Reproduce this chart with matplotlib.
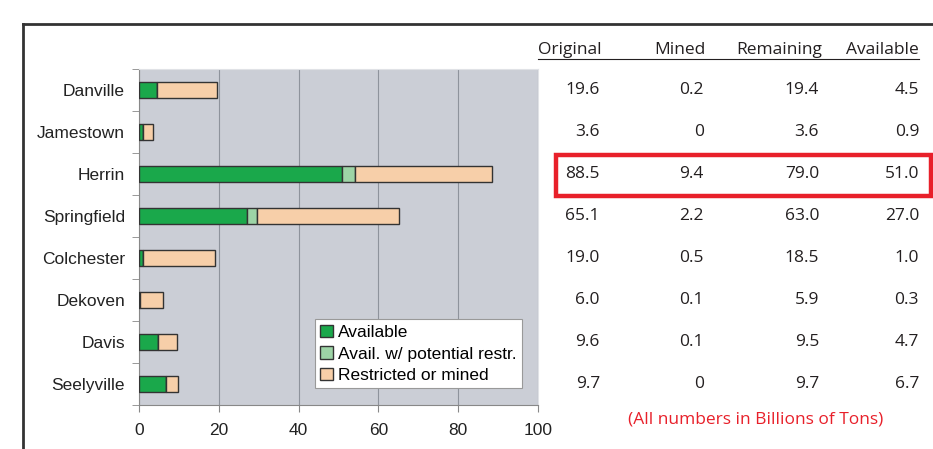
import matplotlib
matplotlib.use("Agg")
import matplotlib.pyplot as plt
import matplotlib.transforms as mtransforms
from matplotlib.lines import Line2D
from matplotlib.patches import Rectangle
import numpy as np

# coal field data (billions of tons)
fields = ["Danville", "Jamestown", "Herrin", "Springfield",
          "Colchester", "Dekoven", "Davis", "Seelyville"]
original = [19.6, 3.6, 88.5, 65.1, 19.0, 6.0, 9.6, 9.7]
mined = ["0.2", "0", "9.4", "2.2", "0.5", "0.1", "0.1", "0"]
remaining = [19.4, 3.6, 79.0, 63.0, 18.5, 5.9, 9.5, 9.7]
available = [4.5, 0.9, 51.0, 27.0, 1.0, 0.3, 4.7, 6.7]
potential = [0.0, 0.0, 3.2, 2.5, 0.0, 0.0, 0.0, 0.0]
headers = ["Original", "Mined", "Remaining", "Available"]
xticks = [0, 20, 40, 60, 80, 100]

restricted = [o - a - p for o, a, p in zip(original, available, potential)]

c_avail = "#1aa84b"
c_pot = "#9dd4a6"
c_restr = "#f7cfa9"
edge = "#333333"

fig = plt.figure(figsize=(9.33, 4.49), dpi=100)
ax = fig.add_axes([139 / 933, 1 - 405 / 449, 399 / 933, 336 / 449])
ax.set_facecolor("#cbced6")

y = np.arange(len(fields))
h = 0.38
ax.barh(y, available, height=h, color=c_avail, edgecolor=edge, linewidth=1, label="Available", zorder=3)
ax.barh(y, potential, left=available, height=h, color=c_pot, edgecolor=edge, linewidth=1,
        label="Avail. w/ potential restr.", zorder=3)
left2 = [a + p for a, p in zip(available, potential)]
ax.barh(y, restricted, left=left2, height=h, color=c_restr, edgecolor=edge, linewidth=1,
        label="Restricted or mined", zorder=3)

ax.set_xlim(0, 100)
ax.set_ylim(len(fields) - 0.5, -0.5)
ax.set_xticks(xticks)
ax.set_xticklabels([str(t) for t in xticks], fontsize=12.5, family="Liberation Sans", color="#222222")
ax.set_yticks(y)
ax.set_yticklabels(fields, fontsize=12.5, family="Liberation Sans", color="#222222")
ax.tick_params(axis="y", length=0, pad=10)
ax.tick_params(axis="x", length=5, color="#888888", pad=8)
ax.set_yticks(np.arange(len(fields) + 1) - 0.5, minor=True)
ax.tick_params(axis="y", which="minor", length=5, color="#888888")
ax.xaxis.grid(True, color="#8e939c", linewidth=0.8, zorder=1)
ax.set_axisbelow(True)
for side in ["top", "right"]:
    ax.spines[side].set_color("#e0e2e6")
for side in ["left", "bottom"]:
    ax.spines[side].set_color("#888888")

leg = ax.legend(loc="lower right", bbox_to_anchor=(0.96, 0.05),
                prop={"family": "Liberation Sans", "size": 12.5},
                fancybox=False, framealpha=1, edgecolor="#999999",
                handlelength=0.75, handleheight=0.75, handletextpad=0.3,
                labelspacing=0.35, borderpad=0.3, borderaxespad=0)
leg.get_frame().set_linewidth(0.8)

# table to the right, rows follow the bar positions
trans = mtransforms.blended_transform_factory(fig.transFigure, ax.transData)
col_right = [600 / 933, 704 / 933, 819 / 933, 919 / 933]
cols = [[f"{v:.1f}" for v in original], mined,
        [f"{v:.1f}" for v in remaining], [f"{v:.1f}" for v in available]]
for cx, col in zip(col_right, cols):
    for yi, txt in zip(y, col):
        fig.text(cx, yi, txt, transform=trans, ha="right", va="center",
                 fontsize=12.5, family="Open Sans", color="#231f20")

hdr_center = [570, 680, 779, 882]
for cx, txt in zip(hdr_center, headers):
    fig.text(cx / 933, 1 - 50 / 449, txt, ha="center", va="center",
             fontsize=12.5, family="Open Sans", color="#231f20")
fig.add_artist(Line2D([538 / 933, 919 / 933], [1 - 59 / 449, 1 - 59 / 449],
                      color="#231f20", linewidth=0.8))

# highlight Herrin row
herrin = fields.index("Herrin")
fig.add_artist(Rectangle((556 / 933, herrin - 0.45), 375 / 933, 0.98, transform=trans,
                         fill=False, edgecolor="#e8202a", linewidth=3.2, clip_on=False))

fig.text(756 / 933, 1 - 419 / 449, "(All numbers in Billions of Tons)", ha="center",
         va="center", fontsize=12.5, family="Open Sans", color="#e8202a")

# outer frame lines
fig.add_artist(Line2D([23 / 933, 932 / 933], [1 - 24 / 449, 1 - 24 / 449], color="#333333", linewidth=2))
fig.add_artist(Line2D([23 / 933, 23 / 933], [1 - 24 / 449, 0], color="#333333", linewidth=2))

fig.savefig("out.png", dpi=100)
